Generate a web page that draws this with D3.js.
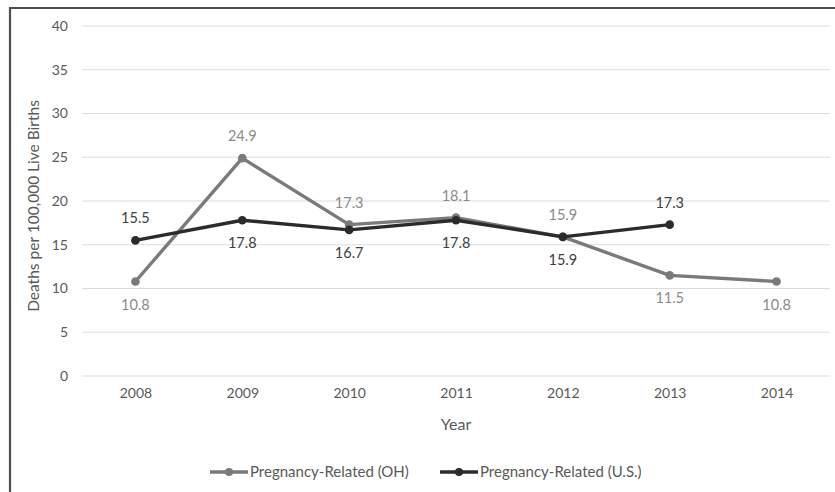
<!DOCTYPE html>
<html><head><meta charset="utf-8">
<script src="https://cdn.jsdelivr.net/npm/d3@7"></script>
<style>body{margin:0;background:#fff}svg{display:block}text{font-family:Lato,"Open Sans",sans-serif}</style>
</head><body>
<svg id="c" width="835" height="492"></svg>
<script>
const years = ["2008","2009","2010","2011","2012","2013","2014"];
const ohValues = [10.8, 24.9, 17.3, 18.1, 15.9, 11.5, 10.8];
const usValues = [15.5, 17.8, 16.7, 17.8, 15.9, 17.3];
const ohLabelPos = ["below","above","above","above","above","below","below"];
const usLabelPos = ["above","below","below","below","below","above"];
const yTicks = [0,5,10,15,20,25,30,35,40];
const seriesNames = ["Pregnancy-Related (OH)", "Pregnancy-Related (U.S.)"];

const svg = d3.select("#c");
const plotL = 82, plotR = 830, plotT = 26, plotB = 376;
const x = d3.scalePoint().domain(years).range([plotL, plotR]).padding(0.5);
const y = d3.scaleLinear().domain([0, 40]).range([plotB, plotT]);

// border
svg.append("path").attr("d", `M10,492 L10,8 L835,8`).attr("fill","none").attr("stroke","#505050").attr("stroke-width",2.2);

// grid
svg.append("g").selectAll("line").data(yTicks).join("line")
  .attr("x1", plotL).attr("x2", plotR).attr("y1", d=>y(d)).attr("y2", d=>y(d))
  .attr("stroke","#dcdcdc").attr("stroke-width",1.2);

// y axis labels
const yAxis = d3.axisLeft(y).tickValues(yTicks).tickSize(0).tickPadding(0);
const ya = svg.append("g").attr("transform", `translate(68,0)`).call(yAxis);
ya.select(".domain").remove();
ya.selectAll("text").attr("fill","#595959").style("font-size","14px").style("font-family","Lato,'Open Sans',sans-serif");

// x axis labels
const xAxis = d3.axisBottom(x).tickSize(0).tickPadding(0);
const xa = svg.append("g").attr("transform", `translate(0,388)`).call(xAxis);
xa.select(".domain").remove();
xa.selectAll("text").attr("fill","#595959").style("font-size","14px").style("font-family","Lato,'Open Sans',sans-serif");

// titles
svg.append("text").attr("x", 456).attr("y", 430).attr("text-anchor","middle").attr("fill","#595959").style("font-size","16px").text("Year");
svg.append("text").attr("transform","translate(39,206) rotate(-90)").attr("text-anchor","middle").attr("fill","#595959").style("font-size","15.5px").text("Deaths per 100,000 Live Births");

const line = d3.line().x((d,i)=>x(years[i])).y(d=>y(d));
const ohColor = "#7a7a7a", usColor = "#2b2b2b";

function drawSeries(vals, color){
  const g = svg.append("g");
  g.append("path").datum(vals).attr("d", line).attr("fill","none").attr("stroke",color).attr("stroke-width",3.4).attr("stroke-linejoin","round");
  g.selectAll("circle").data(vals).join("circle")
    .attr("cx",(d,i)=>x(years[i])).attr("cy",d=>y(d)).attr("r",4.3).attr("fill",color);
  return g;
}
function drawLabels(vals, labelColor, pos){
  svg.append("g").selectAll("text").data(vals).join("text")
    .attr("x",(d,i)=>x(years[i]))
    .attr("y",(d,i)=> pos[i]==="above" ? y(d)-17 : y(d)+28)
    .attr("text-anchor","middle").attr("fill",labelColor).style("font-size","14.5px")
    .text(d=>d.toFixed(1));
}
drawSeries(ohValues, ohColor);
drawSeries(usValues, usColor);
drawLabels(ohValues, "#8a8a8a", ohLabelPos);
drawLabels(usValues, "#404040", usLabelPos);

// legend
const legend = [{name:seriesNames[0], color:ohColor, x:210},{name:seriesNames[1], color:usColor, x:440}];
const lg = svg.append("g").selectAll("g").data(legend).join("g").attr("transform", d=>`translate(${d.x},472)`);
lg.append("line").attr("x1",0).attr("x2",38).attr("y1",0).attr("y2",0).attr("stroke",d=>d.color).attr("stroke-width",3.4);
lg.append("circle").attr("cx",19).attr("cy",0).attr("r",4).attr("fill",d=>d.color);
lg.append("text").attr("x",40).attr("y",5).attr("fill","#595959").style("font-size","15px").text(d=>d.name);
</script>
</body></html>
